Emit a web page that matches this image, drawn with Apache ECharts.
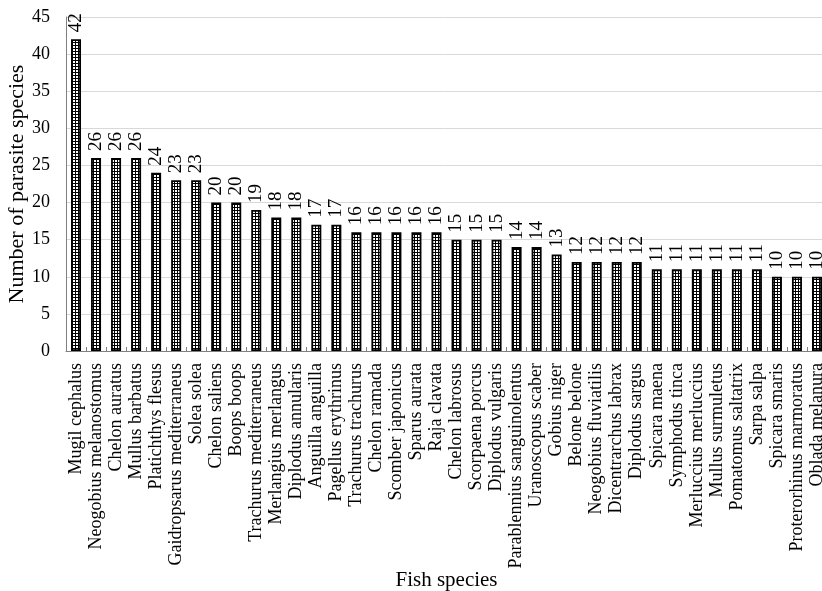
<!DOCTYPE html>
<html>
<head>
<meta charset="utf-8">
<script src="https://cdn.jsdelivr.net/npm/echarts@6/dist/echarts.min.js"></script>
<style>
html,body{margin:0;padding:0;background:#fff;}
#chart{width:822px;height:591px;}
</style>
</head>
<body>
<div id="chart"></div>
<script>
const categories = [
  'Mugil cephalus','Neogobius melanostomus','Chelon auratus','Mullus barbatus','Platichthys flesus',
  'Gaidropsarus mediterraneus','Solea solea','Chelon saliens','Boops boops','Trachurus mediterraneus',
  'Merlangius merlangus','Diplodus annularis','Anguilla anguilla','Pagellus erythrinus','Trachurus trachurus',
  'Chelon ramada','Scomber japonicus','Sparus aurata','Raja clavata','Chelon labrosus',
  'Scorpaena porcus','Diplodus vulgaris','Parablennius sanguinolentus','Uranoscopus scaber','Gobius niger',
  'Belone belone','Neogobius fluviatilis','Dicentrarchus labrax','Diplodus sargus','Spicara maena',
  'Symphodus tinca','Merluccius merluccius','Mullus surmuletus','Pomatomus saltatrix','Sarpa salpa',
  'Spicara smaris','Proterorhinus marmoratus','Oblada melanura'
];
const parasiteCounts = [
  42,26,26,26,24,23,23,20,20,19,
  18,18,17,17,16,16,16,16,16,15,
  15,15,14,14,13,12,12,12,12,11,
  11,11,11,11,11,10,10,10
];
const yTicks = {min:0, max:45, interval:5};

const FONT = '"Liberation Serif","Times New Roman",serif';

// grid hatch pattern
const pc = document.createElement('canvas');
pc.width = 3; pc.height = 3;
const px = pc.getContext('2d');
px.fillStyle = '#ffffff'; px.fillRect(0,0,3,3);
px.fillStyle = '#000000';
px.fillRect(0,0,3,1);
px.fillRect(0,0,1,3);

const chart = echarts.init(document.getElementById('chart'), null, {renderer:'canvas'});
chart.setOption({
  animation:false,
  backgroundColor:'#ffffff',
  grid:{left:66, top:17, width:761, height:334, containLabel:false, outerBoundsMode:'none'},
  xAxis:{
    type:'category',
    data:categories,
    name:'Fish species',
    nameLocation:'middle',
    nameGap:219,
    nameMoveOverlap:false,
    nameTextStyle:{fontFamily:FONT, fontSize:21, color:'#000'},
    axisLine:{lineStyle:{color:'#808080', width:1}},
    axisTick:{show:true, inside:true, length:4, alignWithLabel:false, lineStyle:{color:'#808080'}},
    axisLabel:{rotate:90, interval:0, margin:12, fontFamily:FONT, fontSize:18, color:'#000'}
  },
  yAxis:{
    type:'value',
    min:yTicks.min, max:yTicks.max, interval:yTicks.interval,
    name:'Number of parasite species',
    nameLocation:'middle',
    nameGap:38,
    nameMoveOverlap:false,
    nameTextStyle:{fontFamily:FONT, fontSize:22, color:'#000'},
    axisLine:{show:true, lineStyle:{color:'#808080', width:1}},
    axisTick:{show:false},
    axisLabel:{margin:16, fontFamily:FONT, fontSize:18, color:'#000'},
    splitLine:{lineStyle:{color:'#d9d9d9', width:1}}
  },
  series:[{
    type:'bar',
    data:parasiteCounts,
    barWidth:10,
    itemStyle:{
      color:{image:pc, repeat:'repeat'},
      borderColor:'#000',
      borderWidth:1.8
    },
    label:{
      show:true,
      position:'top',
      rotate:90,
      align:'left',
      verticalAlign:'middle',
      distance:7,
      fontFamily:FONT,
      fontSize:19,
      color:'#000'
    }
  }]
});
</script>
</body>
</html>
